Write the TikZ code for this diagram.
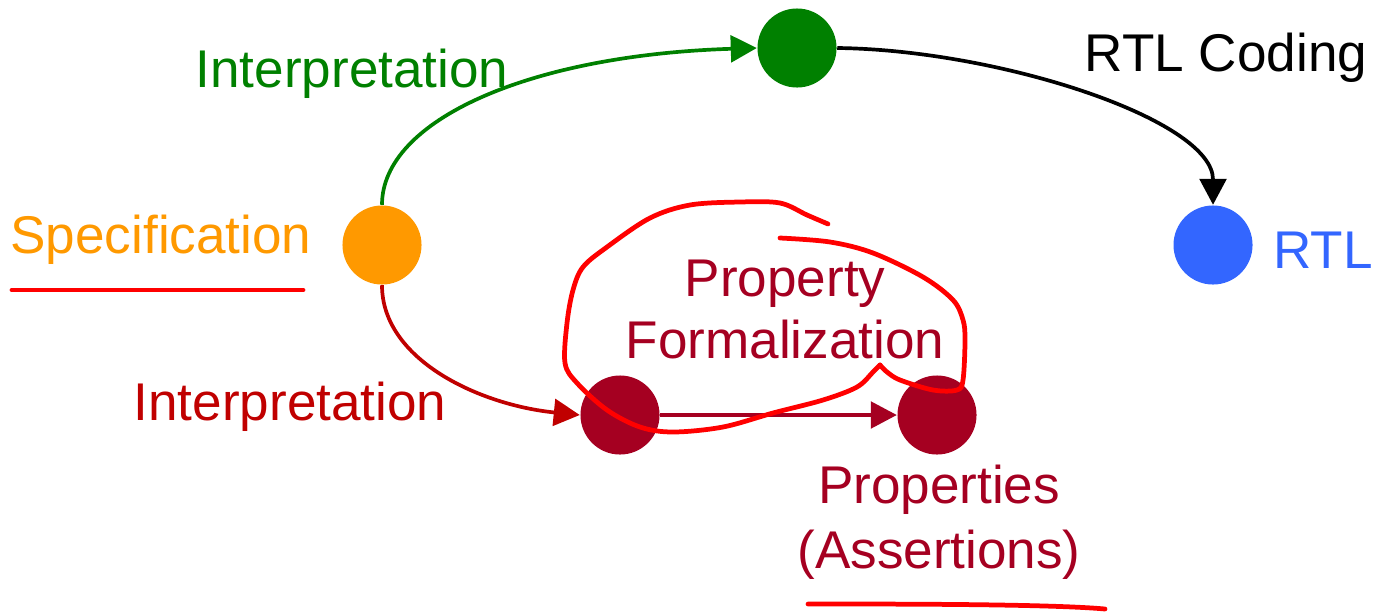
\documentclass[tikz,border=0pt]{standalone}
\usepackage{fontspec}
\setmainfont{Liberation Sans}
\usetikzlibrary{arrows.meta}
\definecolor{specorange}{HTML}{FF9900}
\definecolor{interpgreen}{HTML}{008000}
\definecolor{rtlblue}{HTML}{3366FF}
\definecolor{propred}{HTML}{A50021}
\definecolor{arrowred}{HTML}{C00000}
\definecolor{annored}{HTML}{FF0000}
\begin{document}
\begin{tikzpicture}[x=0.01cm,y=-0.01cm,
  dot/.style={circle,inner sep=0pt,minimum size=0.79cm},
  lbl/.style={font=\fontsize{15.1}{18}\selectfont,inner sep=0pt,anchor=base},
  flow/.style={line width=1.05pt,-{Triangle[length=7.4pt,width=7.6pt]}},
  scribble/.style={draw=annored,line width=1.35pt,line cap=round,line join=round}]
\useasboundingbox (0,0) rectangle (1377,612);

% states
\node[dot,fill=specorange] (spec) at (382,245) {};
\node[dot,fill=interpgreen] (impl) at (797,48) {};
\node[dot,fill=rtlblue] (rtl) at (1213,245) {};
\node[dot,fill=propred] (formal) at (620,415) {};
\node[dot,fill=propred] (props) at (937,415) {};

% labels
\node[lbl,text=interpgreen] (lgreen) at (352,87) {Interpretation};
\node[lbl,text=black] (lcode) at (1226,71) {RTL Coding};
\node[lbl,text=specorange] (lspec) at (161,253) {Specification};
\node[lbl,text=rtlblue] (lrtl) at (1323,268) {RTL};
\node[lbl,text=arrowred] (lred) at (290,420) {Interpretation};
\node[lbl,text=propred] (lpf1) at (785,296) {Property};
\node[lbl,text=propred] (lpf2) at (785,358) {Formalization};
\node[lbl,text=propred] (lpa1) at (939,503) {Properties};
\node[lbl,text=propred] (lpa2) at (939,568) {(Assertions)};

% transitions
\draw[flow,interpgreen] (spec.north) .. controls (382,120) and (530,55) .. (impl.west);
\draw[flow,black] (impl.east) .. controls (1000,50) and (1213,120) .. (rtl.north);
\draw[flow,arrowred] (spec.south) .. controls (382,360) and (480,405) .. (formal.west);
\draw[flow,propred,line width=0.9pt] (formal) -- (props);

% hand-drawn annotations
\draw[scribble] plot[smooth,tension=0.55] coordinates {(828,224) (807,215) (780,203) (740,202) (690,205) (650,218) (607,247) (583,267) (573,290) (567,323) (565,363) (577,383) (607,410) (640,427) (673,432) (723,427) (773,413) (823,400) (857,387) (873,372) (880,365)};
\draw[scribble] plot[smooth,tension=0.55] coordinates {(880,365) (887,372) (900,380) (933,390) (957,390) (963,380) (965,340) (963,320) (953,300) (923,277) (873,253) (830,242) (780,238)};
\draw[scribble] (12,290) -- (303,290);
\draw[scribble] (808,604) .. controls (900,604) and (1050,604) .. (1105,609);
\end{tikzpicture}
\end{document}
